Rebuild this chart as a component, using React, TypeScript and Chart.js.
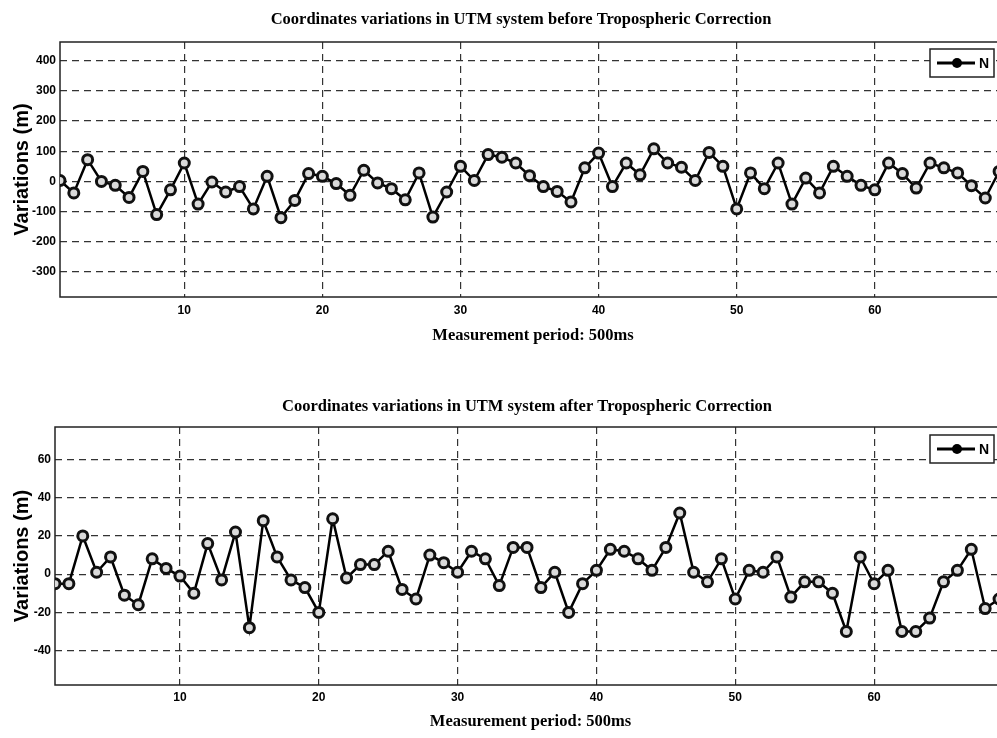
import { useEffect, useRef } from "react";
import { Chart, registerables } from "chart.js";

Chart.register(...registerables);

// Measurement index (one sample every 500 ms)
const periods = [
  1, 2, 3, 4, 5, 6, 7, 8, 9, 10, 11, 12, 13, 14, 15, 16, 17, 18, 19, 20, 21, 22, 23,
  24, 25, 26, 27, 28, 29, 30, 31, 32, 33, 34, 35, 36, 37, 38, 39, 40, 41, 42, 43, 44,
  45, 46, 47, 48, 49, 50, 51, 52, 53, 54, 55, 56, 57, 58, 59, 60, 61, 62, 63, 64, 65,
  66, 67, 68, 69,
];

// Northing variations (m) before tropospheric correction
const northBefore = [
  3, -38, 72, 0, -13, -53, 33, -110, -28, 61, -75, -2, -35, -17, -91, 17, -120, -63, 26,
  17, -7, -46, 37, -5, -24, -61, 28, -118, -35, 50, 3, 89, 80, 61, 19, -17, -33, -68, 45,
  94, -17, 61, 22, 108, 61, 47, 3, 96, 50, -91, 28, -24, 61, -75, 11, -38, 50, 17, -13,
  -28, 61, 26, -22, 61, 45, 28, -14, -55, 33,
];

// Northing variations (m) after tropospheric correction
const northAfter = [
  -5, -5, 20, 1, 9, -11, -16, 8, 3, -1, -10, 16, -3, 22, -28, 28, 9, -3, -7, -20, 29, -2,
  5, 5, 12, -8, -13, 10, 6, 1, 12, 8, -6, 14, 14, -7, 1, -20, -5, 2, 13, 12, 8, 2, 14, 32,
  1, -4, 8, -13, 2, 1, 9, -12, -4, -4, -10, -30, 9, -5, 2, -30, -30, -23, -4, 2, 13, -18,
  -13,
];

const xTickValues = [10, 20, 30, 40, 50, 60];
const beforeTickValues = [-300, -200, -100, 0, 100, 200, 300, 400];
const afterTickValues = [-40, -20, 0, 20, 40, 60];

const seriesLabel = "N";
const xAxisTitle = "Measurement period: 500ms";
const yAxisTitle = "Variations (m)";
const titleBefore = "Coordinates variations in UTM system before Tropospheric Correction";
const titleAfter = "Coordinates variations in UTM system after Tropospheric Correction";

const serif = "'Liberation Serif', 'Times New Roman', serif";
const sans = "'Liberation Sans', Arial, sans-serif";

// Solid frame around the plotting area
const framePlugin = {
  id: "frame",
  beforeDatasetsDraw(chart: any) {
    const { ctx, chartArea } = chart;
    ctx.save();
    ctx.strokeStyle = "#222";
    ctx.lineWidth = 1.5;
    ctx.setLineDash([]);
    ctx.strokeRect(chartArea.left, chartArea.top, chartArea.right - chartArea.left, chartArea.bottom - chartArea.top);
    ctx.restore();
  },
};

// Centre the chart title over the whole figure width instead of the padded box
const titleShiftPlugin = {
  id: "titleShift",
  afterLayout(chart: any, _args: any, opts: any) {
    const t = chart.titleBlock;
    if (t && opts.shift) {
      t.left += opts.shift;
      t.right += opts.shift;
    }
  },
};

// Boxed legend drawn inside the upper-right corner of the plot
const insideLegendPlugin = {
  id: "insideLegend",
  afterDatasetsDraw(chart: any, _args: any, opts: any) {
    const { ctx, chartArea } = chart;
    const ds = chart.data.datasets[0];
    const w = opts.width ?? 64;
    const h = opts.height ?? 28;
    const x = chartArea.right - (opts.right ?? 12) - w;
    const y = chartArea.top + (opts.top ?? 7);
    ctx.save();
    ctx.fillStyle = "#fff";
    ctx.fillRect(x, y, w, h);
    ctx.strokeStyle = "#222";
    ctx.lineWidth = 1.5;
    ctx.setLineDash([]);
    ctx.strokeRect(x, y, w, h);
    const cy = y + h / 2;
    ctx.strokeStyle = "#000";
    ctx.lineWidth = 3;
    ctx.beginPath();
    ctx.moveTo(x + 7, cy);
    ctx.lineTo(x + 45, cy);
    ctx.stroke();
    ctx.fillStyle = "#000";
    ctx.beginPath();
    ctx.arc(x + 27, cy, 5, 0, Math.PI * 2);
    ctx.fill();
    ctx.font = `bold 14px ${sans}`;
    ctx.textAlign = "left";
    ctx.textBaseline = "middle";
    ctx.fillText(ds.label, x + 49, cy + 1);
    ctx.restore();
  },
};

type PanelProps = {
  title: string;
  values: number[];
  yTicks: number[];
  yMin: number;
  yMax: number;
  width: number;
  height: number;
  left: number;
  top: number;
  yAxisWidth: number;
  xAxisHeight: number;
  titlePadding: { top: number; bottom: number };
  titleShift: number;
  xTickPadding: number;
  xTitlePaddingBottom: number;
  legendTop: number;
};

function Panel(p: PanelProps) {
  const ref = useRef<HTMLCanvasElement | null>(null);

  useEffect(() => {
    if (!ref.current) return;
    const points = periods.map((x, i) => ({ x, y: p.values[i] }));
    const gridColor = "#333";
    const chart = new Chart(ref.current, {
      type: "line",
      data: {
        datasets: [
          {
            label: seriesLabel,
            data: points,
            borderColor: "#000",
            borderWidth: 2.5,
            pointRadius: 5,
            pointBorderWidth: 3,
            pointBorderColor: "#111",
            pointBackgroundColor: "#dadada",
            tension: 0,
          },
        ],
      },
      options: {
        responsive: false,
        animation: false,
        events: [],
        layout: { padding: { left: 0, right: 28, top: 0, bottom: 0 } },
        plugins: {
          legend: { display: false },
          tooltip: { enabled: false },
          title: {
            display: true,
            text: p.title,
            color: "#000",
            font: { family: serif, size: 16.5, weight: "bold", lineHeight: 1.2 },
            padding: p.titlePadding,
          },
          titleShift: { shift: p.titleShift },
          insideLegend: { right: 12, top: p.legendTop, width: 64, height: 28 },
        } as any,
        scales: {
          x: {
            type: "linear",
            min: 1,
            max: 69.5,
            afterBuildTicks: (s: any) => {
              s.ticks = xTickValues.map((v) => ({ value: v }));
            },
            afterFit: (s: any) => {
              s.height = p.xAxisHeight;
            },
            grid: { color: gridColor, lineWidth: 1.2, drawTicks: false },
            border: { display: false, dash: [7, 5] },
            ticks: {
              color: "#000",
              padding: p.xTickPadding,
              font: { family: sans, size: 12, weight: "bold" },
              callback: (v: any) => String(v),
            },
            title: {
              display: true,
              text: xAxisTitle,
              color: "#000",
              font: { family: serif, size: 16.5, weight: "bold", lineHeight: 1.2 },
              padding: { top: 0, bottom: p.xTitlePaddingBottom },
            },
          },
          y: {
            type: "linear",
            min: p.yMin,
            max: p.yMax,
            afterBuildTicks: (s: any) => {
              s.ticks = p.yTicks.map((v) => ({ value: v }));
            },
            afterFit: (s: any) => {
              s.width = p.yAxisWidth;
            },
            grid: { color: gridColor, lineWidth: 1.2, drawTicks: false },
            border: { display: false, dash: [7, 5] },
            ticks: {
              color: "#000",
              padding: 4,
              font: { family: sans, size: 12, weight: "bold" },
              callback: (v: any) => String(v),
            },
            title: {
              display: true,
              text: yAxisTitle,
              color: "#000",
              font: { family: sans, size: 20, weight: "bold", lineHeight: 1.2 },
              padding: { top: 2, bottom: 0 },
            },
          },
        },
      },
      plugins: [framePlugin, titleShiftPlugin, insideLegendPlugin],
    });
    return () => chart.destroy();
  }, []);

  return (
    <div style={{ position: "absolute", left: p.left, top: p.top, width: p.width, height: p.height }}>
      <canvas ref={ref} width={p.width} height={p.height} style={{ display: "block" }} />
    </div>
  );
}

export default function App() {
  return (
    <div style={{ position: "fixed", left: 0, top: 0, width: 997, height: 738, overflow: "hidden", background: "#fff" }}>
      <Panel
        title={titleBefore}
        values={northBefore}
        yTicks={beforeTickValues}
        yMin={-383}
        yMax={462}
        width={1026}
        height={352}
        left={8}
        top={8}
        yAxisWidth={52}
        xAxisHeight={63}
        titlePadding={{ top: 1.9, bottom: 12.3 }}
        titleShift={14}
        xTickPadding={6}
        xTitlePaddingBottom={14.1}
        legendTop={7}
      />
      <Panel
        title={titleAfter}
        values={northAfter}
        yTicks={afterTickValues}
        yMin={-58}
        yMax={77}
        width={1026}
        height={378}
        left={8}
        top={360}
        yAxisWidth={47}
        xAxisHeight={53}
        titlePadding={{ top: 36.9, bottom: 10.3 }}
        titleShift={20}
        xTickPadding={5}
        xTitlePaddingBottom={6.1}
        legendTop={8}
      />
    </div>
  );
}
